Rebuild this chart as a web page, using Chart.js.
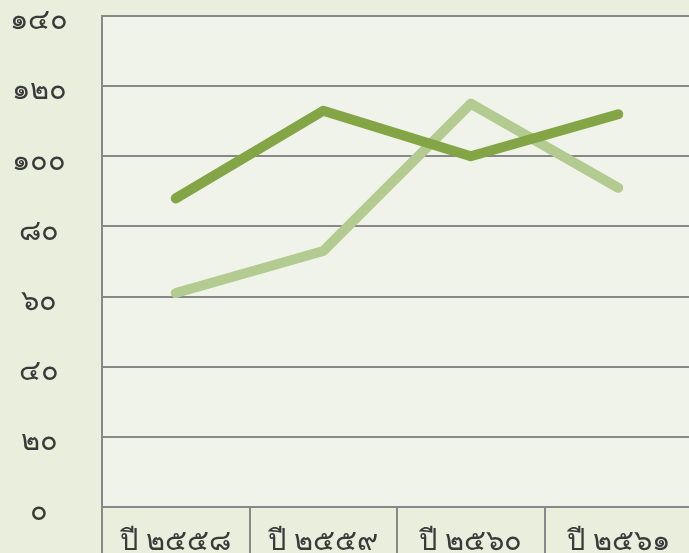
<!DOCTYPE html>
<html>
<head>
<meta charset="utf-8">
<script src="https://cdn.jsdelivr.net/npm/chart.js@4"></script>
<style>
  html, body { margin: 0; padding: 0; overflow: hidden; background: #eaeedd; }
  #wrap { width: 700px; height: 600px; }
</style>
</head>
<body>
<div id="wrap"><canvas id="chart"></canvas></div>
<script>
  // ── Data ────────────────────────────────────────────────
  const years = ["ปี ๒๕๕๘", "ปี ๒๕๕๙", "ปี ๒๕๖๐", "ปี ๒๕๖๑"];
  const seriesDark = [88, 113, 100, 112];
  const seriesLight = [61, 73, 115, 91];
  const thaiDigits = ["๐", "๑", "๒", "๓", "๔", "๕", "๖", "๗", "๘", "๙"];

  function toThai(n) {
    return String(n).replace(/[0-9]/g, (d) => thaiDigits[d]);
  }

  // plot-area fill
  const plotBg = {
    id: "plotBg",
    beforeDraw(chart) {
      const { ctx, chartArea: a } = chart;
      ctx.save();
      ctx.fillStyle = "#f0f3ea";
      ctx.fillRect(a.left, a.top, a.right - a.left, a.bottom - a.top);
      ctx.restore();
    },
  };

  const FONT = { family: "'Noto Sans', sans-serif", size: 29 };
  const GRID = "#888";
  const TEXT = "#3a3a3a";

  new Chart(document.getElementById("chart"), {
    type: "line",
    data: {
      labels: years,
      datasets: [
        { data: seriesDark, borderColor: "#84a545", borderWidth: 10, pointRadius: 0, borderCapStyle: "round", borderJoinStyle: "round" },
        { data: seriesLight, borderColor: "#b3cb91", borderWidth: 10, pointRadius: 0, borderCapStyle: "round", borderJoinStyle: "round" },
      ],
    },
    options: {
      animation: false,
      responsive: true,
      maintainAspectRatio: false,
      layout: { padding: { top: 16, left: 0, right: 8, bottom: 0 } },
      plugins: { legend: { display: false }, tooltip: { enabled: false } },
      scales: {
        x: {
          offset: true,
          grid: { offset: true, drawOnChartArea: false, drawTicks: true, tickLength: 80, color: GRID, lineWidth: 2 },
          border: { display: false },
          ticks: { font: FONT, color: TEXT, padding: -63, maxRotation: 0, autoSkip: false },
          afterFit(scale) { scale.height = 93; scale.paddingLeft = 0; scale.paddingRight = 0; },
        },
        y: {
          min: 0,
          max: 140,
          ticks: { stepSize: 20, font: FONT, color: TEXT, padding: 34, labelOffset: 5, crossAlign: "center", callback: (v) => toThai(v) },
          grid: { color: GRID, lineWidth: 2, drawTicks: false },
          border: { color: GRID, width: 2 },
          afterFit(scale) { scale.width = 102; scale.paddingTop = 0; scale.paddingBottom = 0; },
        },
      },
    },
    plugins: [plotBg],
  });
</script>
</body>
</html>
